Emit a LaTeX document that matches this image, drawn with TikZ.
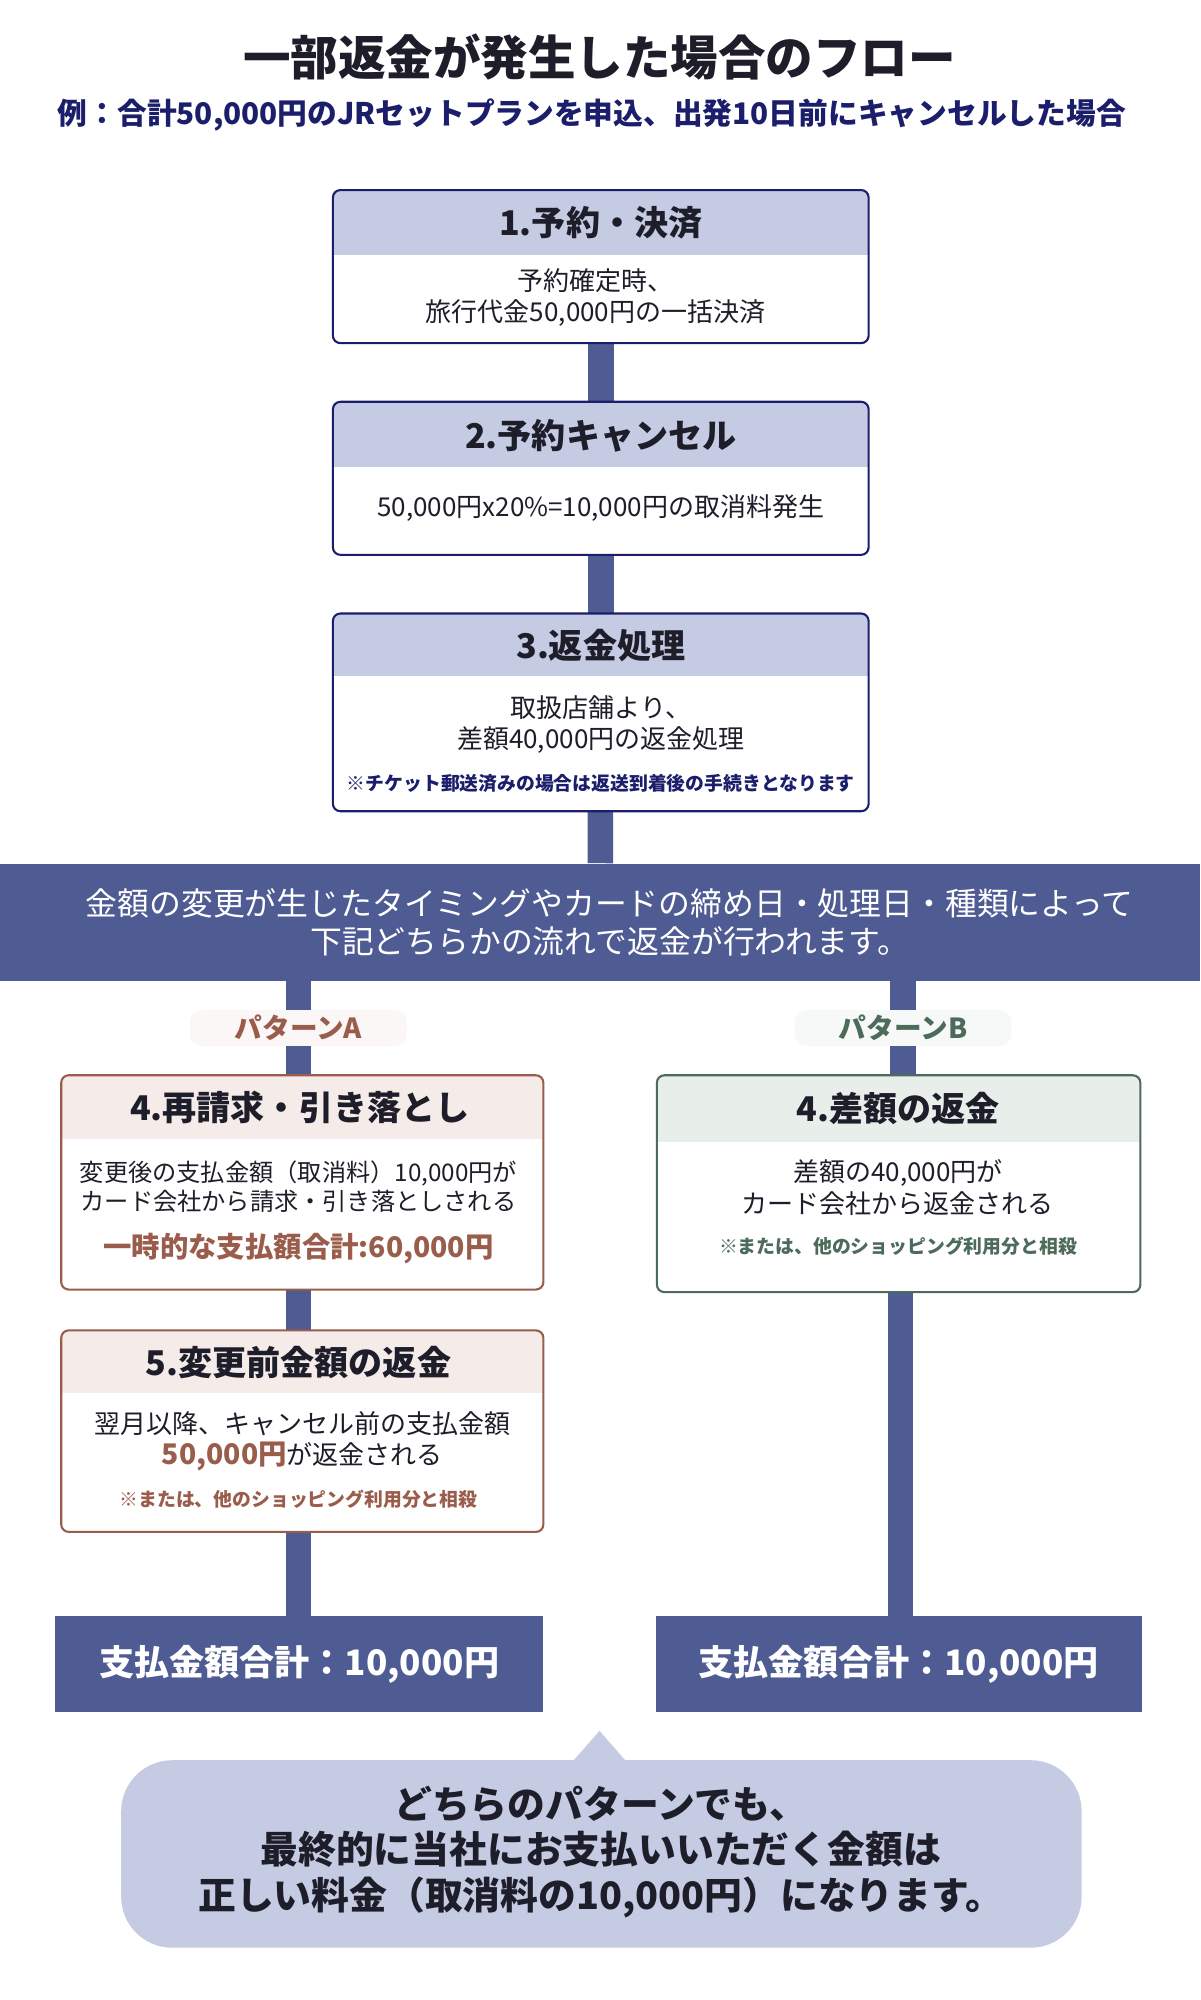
\documentclass[tikz,border=0pt]{standalone}
\usepackage{fontspec}
\setmainfont{Noto Sans CJK JP}
\usetikzlibrary{positioning,calc}
\definecolor{navy}{HTML}{1B1F6B}
\definecolor{bar}{HTML}{4F5B93}
\definecolor{hdr}{HTML}{C5CBE3}
\definecolor{brownA}{HTML}{9A5D4C}
\definecolor{hdrA}{HTML}{F5ECEA}
\definecolor{greenB}{HTML}{4D6B5A}
\definecolor{hdrB}{HTML}{E8EFEB}
\definecolor{ink}{HTML}{1E1E2A}
\newcommand{\fs}[1]{\fontsize{#1}{\fpeval{#1*1.2}}\selectfont}
\tikzset{
  link/.style={bar, line width=20*0.03cm},
  frame/.style={draw, line width=1.4pt, rounded corners=5pt},
  boxtitle/.style={font=\fs{22.8}\bfseries, text=ink},
  boxtext/.style={font=\fs{17.4}, text=ink, align=center},
  note/.style={font=\fs{12.6}\bfseries, align=center},
}
\begin{document}
\begin{tikzpicture}[x=0.03cm, y=-0.03cm]
\useasboundingbox (0,0) rectangle (941,1568);
\fill[white] (0,0) rectangle (941,1568);
% title
\node[font=\fs{31.8}\bfseries, text=ink] (title) at (470,45) {一部返金が発生した場合のフロー};
\node[font=\fs{19.9}\bfseries, text=navy] (subtitle) at (464,90) {例：合計50,000円のJRセットプランを申込、出発10日前にキャンセルした場合};
% node anchors for connectors
\node[inner sep=0, minimum width=420*0.03cm, minimum height=120*0.03cm] (step1) at (471,209) {};
\node[inner sep=0, minimum width=420*0.03cm, minimum height=120*0.03cm] (step2) at (471,375) {};
\node[inner sep=0, minimum width=420*0.03cm, minimum height=155*0.03cm] (step3) at (471,558.5) {};
\node[fill=bar, inner sep=0, minimum width=941*0.03cm, minimum height=92*0.03cm] (banner) at (470.5,723) {};
\node[inner sep=0, minimum width=378*0.03cm, minimum height=168*0.03cm] (stepA4) at (237,927) {};
\node[inner sep=0, minimum width=378*0.03cm, minimum height=158*0.03cm] (stepA5) at (237,1122) {};
\node[inner sep=0, minimum width=379*0.03cm, minimum height=170*0.03cm] (stepB4) at (704.5,928) {};
\node[fill=bar, inner sep=0, minimum width=383*0.03cm, minimum height=75*0.03cm] (totalA) at (234.5,1304.5) {};
\node[fill=bar, inner sep=0, minimum width=381*0.03cm, minimum height=75*0.03cm] (totalB) at (704.5,1304.5) {};
% connectors
\draw[link] (step1) -- (step2);
\draw[link] (step2) -- (step3);
\draw[link] (step3) -- (banner);
\draw[link] (banner.south -| 234,0) -- (stepA4.north -| 234,0);
\draw[link] (stepA4.south -| 234,0) -- (stepA5.north -| 234,0);
\draw[link] (stepA5.south -| 234,0) -- (totalA.north -| 234,0);
\draw[link] (banner.south -| 708,0) -- (stepB4.north -| 708,0);
\draw[link] (stepB4.south -| 706,0) -- (totalB.north -| 706,0);
% step boxes
\foreach \n/\xa/\ya/\xb/\yb/\yh/\hc/\bc in {
  step1/261/149/681/269/200/hdr/navy,
  step2/261/315/681/435/366/hdr/navy,
  step3/261/481/681/636/530/hdr/navy,
  stepA4/48/843/426/1011/893/hdrA/brownA,
  stepA5/48/1043/426/1201/1092/hdrA/brownA,
  stepB4/515/843/894/1013/895/hdrB/greenB}
{
  \begin{scope}
    \clip[rounded corners=5pt] (\xa,\ya) rectangle (\xb,\yb);
    \fill[white] (\xa,\ya) rectangle (\xb,\yb);
    \fill[\hc] (\xa,\ya) rectangle (\xb,\yh);
  \end{scope}
  \draw[frame, \bc] (\xa,\ya) rectangle (\xb,\yb);
}
\node[boxtitle] at (471,175) {1.予約・決済};
\node[boxtext] at (467,233) {予約確定時、\\旅行代金50,000円の一括決済};
\node[boxtitle] at (471,342) {2.予約キャンセル};
\node[boxtext] at (471,398) {50,000円x20\%=10,000円の取消料発生};
\node[boxtitle] at (471,506) {3.返金処理};
\node[boxtext] at (471,568) {取扱店舗より、\\差額40,000円の返金処理};
\node[note, text=navy] at (471,614) {※チケット郵送済みの場合は返送到着後の手続きとなります};
% banner text
\node[font=\fs{21.3}, text=white, align=center] at (478,723) {金額の変更が生じたタイミングやカードの締め日・処理日・種類によって\\下記どちらかの流れで返金が行われます。};
% pattern labels
\node[fill=hdrA!40, rounded corners=8pt, minimum width=170*0.03cm, font=\fs{18.5}\bfseries, text=brownA] (patA) at (234,806) {パターンA};
\node[fill=hdrB!40, rounded corners=8pt, minimum width=170*0.03cm, font=\fs{18.5}\bfseries, text=greenB] (patB) at (708,806) {パターンB};
% pattern A
\node[boxtitle] at (235,868) {4.再請求・引き落とし};
\node[boxtext, font=\fs{16.2}] at (234,930) {変更後の支払金額（取消料）10,000円が\\カード会社から請求・引き落としされる};
\node[font=\fs{19}\bfseries, text=brownA] at (234,979) {一時的な支払額合計:60,000円};
\node[boxtitle] at (234,1068) {5.変更前金額の返金};
\node[boxtext] at (237,1130) {翌月以降、キャンセル前の支払金額\\{\fs{19}\bfseries\color{brownA}50,000円}が返金される};
\node[note, text=brownA] at (234,1175) {※または、他のショッピング利用分と相殺};
% pattern B
\node[boxtitle] at (704,869) {4.差額の返金};
\node[boxtext] at (704,931) {差額の40,000円が\\カード会社から返金される};
\node[note, text=greenB] at (704,977) {※または、他のショッピング利用分と相殺};
% totals
\node[font=\fs{23.5}\bfseries, text=white] at (totalA) {支払金額合計：10,000円};
\node[font=\fs{23.5}\bfseries, text=white] at (totalB) {支払金額合計：10,000円};
% summary callout
\fill[hdr, rounded corners=40*0.03cm] (95,1380) rectangle (848,1527);
\fill[hdr] (449,1381) -- (470,1357) -- (491,1381) -- cycle;
\node[font=\fs{25.3}\bfseries, text=ink, align=center] (summary) at (471,1452) {どちらのパターンでも、\\最終的に当社にお支払いいただく金額は\\正しい料金（取消料の10,000円）になります。};
\end{tikzpicture}
\end{document}
